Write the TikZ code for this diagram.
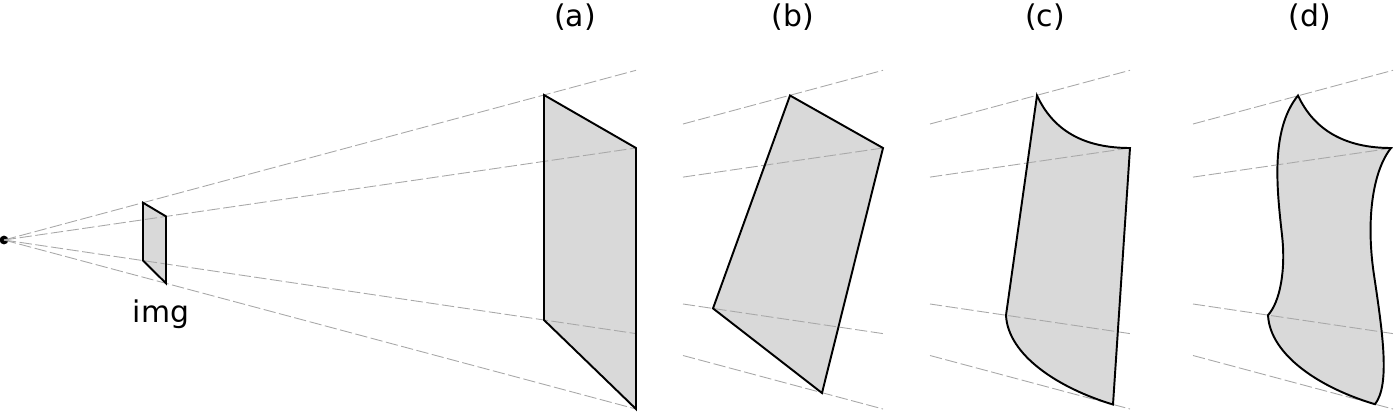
\documentclass[tikz,border=0pt]{standalone}
\usepackage{fontspec}
\setmainfont{DejaVu Sans}
\usetikzlibrary{arrows.meta,calc,positioning}
\definecolor{facegray}{RGB}{217,217,217}
\definecolor{raygray}{RGB}{168,168,168}
\tikzset{
ray/.style={draw=raygray,line width=0.5pt,dash pattern=on 7pt off 2pt},
face/.style={draw=black,line width=1.1pt,line join=miter},
lab/.style={font=\fontsize{17}{20}\selectfont,inner sep=0pt}
}

\begin{document}
\begin{tikzpicture}[x=0.02cm,y=-0.02cm]
\useasboundingbox (0,0) rectangle (1394,413);
% camera centre
\node[circle,fill=black,inner sep=0pt,minimum size=5pt] (O) at (4,240) {};
% image plane
\coordinate (I1) at (143,202.7);
\coordinate (I2) at (166,216.4);
\coordinate (I3) at (166,283.3);
\coordinate (I4) at (143,260.6);
% (a)
\coordinate (A1) at (544,95);
\coordinate (A2) at (636,148);
\coordinate (A3) at (636,409);
\coordinate (A4) at (544,320);
\coordinate (A1e) at (636,70.3);
\coordinate (A4e) at (636,333.6);
% (b)
\coordinate (B1) at (790,95.5);
\coordinate (B2) at (883,148);
\coordinate (B3) at (822,393);
\coordinate (B4) at (713,308.4);
\coordinate (B1w) at (683,124); \coordinate (B1e) at (883,70.3);
\coordinate (B2w) at (683,177.1); \coordinate (B2e) at (883,148);
\coordinate (B3w) at (683,304); \coordinate (B3e) at (883,333.6);
\coordinate (B4w) at (683,355.5); \coordinate (B4e) at (883,409);
% (c)
\coordinate (C1) at (1037,95.5);
\coordinate (C2) at (1130,148);
\coordinate (C3) at (1113,404.5);
\coordinate (C4) at (1006,315.3);
\coordinate (C1w) at (930,124); \coordinate (C1e) at (1130,70.3);
\coordinate (C2w) at (930,177.1); \coordinate (C2e) at (1130,148);
\coordinate (C3w) at (930,304); \coordinate (C3e) at (1130,333.6);
\coordinate (C4w) at (930,355.5); \coordinate (C4e) at (1130,409);
% (d)
\coordinate (D1) at (1298,95.5);
\coordinate (D2) at (1391,148);
\coordinate (D3) at (1375,404.2);
\coordinate (D4) at (1268,315.1);
\coordinate (D1w) at (1193,124); \coordinate (D1e) at (1393,70.3);
\coordinate (D2w) at (1193,177.1); \coordinate (D2e) at (1393,148);
\coordinate (D3w) at (1193,304); \coordinate (D3e) at (1393,333.6);
\coordinate (D4w) at (1193,355.5); \coordinate (D4e) at (1393,409);

\def\shapeI{(I1)--(I2)--(I3)--(I4)--cycle}
\def\shapeA{(A1)--(A2)--(A3)--(A4)--cycle}
\def\shapeB{(B1)--(B2)--(B3)--(B4)--cycle}
\def\shapeC{(C1) .. controls (1053,130) and (1083,148) .. (C2) -- (C3)
  .. controls (1058,388) and (1008,355) .. (C4) -- cycle}
\def\shapeD{(D1) .. controls (1314,130) and (1345,148) .. (D2)
  .. controls (1372,172) and (1366,222) .. (1374,275)
  .. controls (1383,335) and (1390,385) .. (D3)
  .. controls (1320,388) and (1270,355) .. (D4)
  .. controls (1280,302) and (1286,270) .. (1282,235)
  .. controls (1277,190) and (1270,130) .. (D1) -- cycle}

\fill[facegray] \shapeI;
\fill[facegray] \shapeA;
\fill[facegray] \shapeB;
\fill[facegray] \shapeC;
\fill[facegray] \shapeD;

% rays
\draw[ray] (O.center)--(A1e);
\draw[ray] (O.center)--(A2);
\draw[ray] (O.center)--(A4e);
\draw[ray] (O.center)--(A3);
\draw[ray] (B1w)--(B1e); \draw[ray] (B2w)--(B2e);
\draw[ray] (B3w)--(B3e); \draw[ray] (B4w)--(B4e);
\draw[ray] (C1w)--(C1e); \draw[ray] (C2w)--(C2e);
\draw[ray] (C3w)--(C3e); \draw[ray] (C4w)--(C4e);
\draw[ray] (D1w)--(D1e); \draw[ray] (D2w)--(D2e);
\draw[ray] (D3w)--(D3e); \draw[ray] (D4w)--(D4e);

\draw[face] \shapeI;
\draw[face] \shapeA;
\draw[face] \shapeB;
\draw[face] \shapeC;
\draw[face] \shapeD;

\node[lab] (img) at (161,314) {img};
\node[lab] (la) at (575,17) {(a)};
\node[lab] (lb) at (793,17) {(b)};
\node[lab] (lc) at (1045,17) {(c)};
\node[lab] (ld) at (1310,17) {(d)};
\end{tikzpicture}
\end{document}
